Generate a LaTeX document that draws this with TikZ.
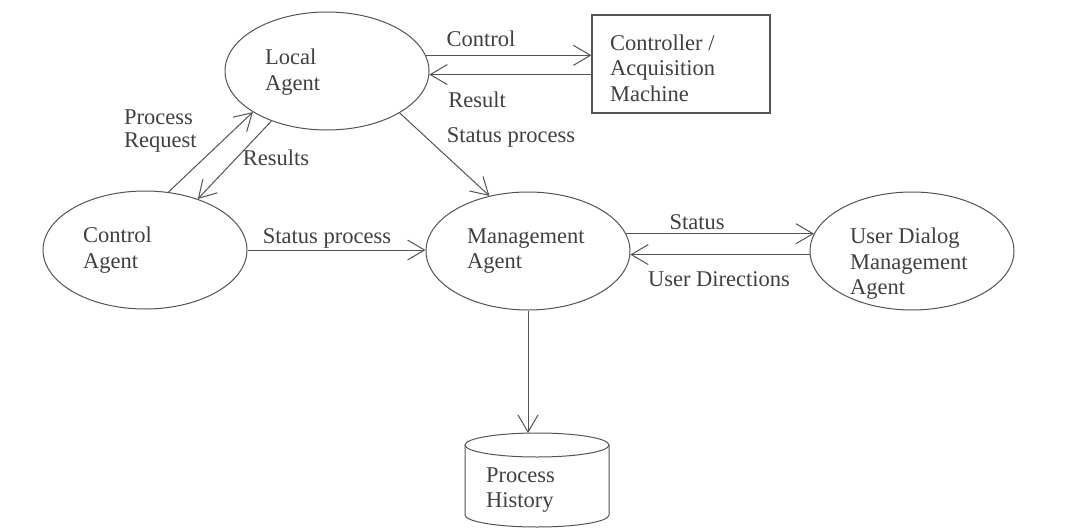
\documentclass[tikz,border=0pt]{standalone}
\usepackage{fontspec}
\setmainfont{Liberation Serif}
\usetikzlibrary{arrows.meta,shapes.geometric}
\definecolor{ink}{gray}{0.25}
\definecolor{wire}{gray}{0.33}
\begin{document}
\begin{tikzpicture}[x=1pt,y=-1pt,
  agent/.style={ellipse,draw=wire,line width=1pt,minimum width=204pt,minimum height=118pt,inner sep=0pt},
  boxnode/.style={rectangle,draw=wire,line width=1.2pt,minimum width=178pt,minimum height=98pt,inner sep=0pt},
  caption/.style={text=ink,font=\fontsize{22.5}{25.5}\selectfont,align=left,inner sep=0pt,anchor=west},
  lbl/.style={text=ink,font=\fontsize{22.5}{22.5}\selectfont,align=left,inner sep=0pt},
  flow/.style={draw=wire,line width=1pt,-{Straight Barb[length=17pt,width=20pt,line width=1pt]}},
]
% canvas
\fill[white] (0,0) rectangle (1085,530);
\useasboundingbox (0,0) rectangle (1085,530);

% agents and the controller box
\node[agent] (la) at (327,71) {};
\node[boxnode] (ctl) at (681,64) {};
\node[agent] (ca) at (145,250) {};
\node[agent] (mg) at (528,251) {};
\node[agent] (ud) at (912,251) {};

% process history store
\coordinate (phtop) at (528,433);
\draw[wire,line width=1pt] (537,445) ellipse [x radius=72pt,y radius=12pt];
\draw[wire,line width=1pt] (465,445) -- (465,515)
  arc [start angle=180,end angle=360,x radius=72pt,y radius=12pt] -- (609,445);

% captions inside the shapes
\node[caption] (laT) at (265,72) {Local\\Agent};
\node[caption] (ctlT) at (610,68) {Controller /\\Acquisition\\Machine};
\node[caption] (caT) at (83,250) {Control\\Agent};
\node[caption] (mgT) at (467,251) {Management\\Agent};
\node[caption] (udT) at (850,264) {User Dialog\\Management\\Agent};
\node[caption] (phT) at (486,490) {Process\\History};

% flows
\draw[flow] (la.9) -- (la.9 -| ctl.west);
\draw[flow] (ctl.west |- la.-2) -- (la.-2);
\draw[flow] (la.-30) -- (mg.125);
\draw[flow] (ca.68) -- (la.209);
\draw[flow] (la.222) -- (ca.44);
\draw[flow] (ca.east) -- (ca.east -| mg.west);
\draw[flow] (mg.10) -- (ud.170);
\draw[flow] (ud.182) -- (mg.-2);
\draw[flow] (mg.south) -- (phtop);

% flow labels
\node[lbl] (lControl) at (481,39) {Control};
\node[lbl] (lResult) at (477,100) {Result};
\node[lbl] (lStat1) at (511,137) {Status process};
\node[lbl,anchor=west] (lPR) at (124,131) {Process\\Request};
\node[lbl] (lRes) at (276,158) {Results};
\node[lbl] (lStat2) at (327,238) {Status process};
\node[lbl] (lStatus) at (697,222) {Status};
\node[lbl] (lUD) at (719,279) {User Directions};
\end{tikzpicture}
\end{document}
